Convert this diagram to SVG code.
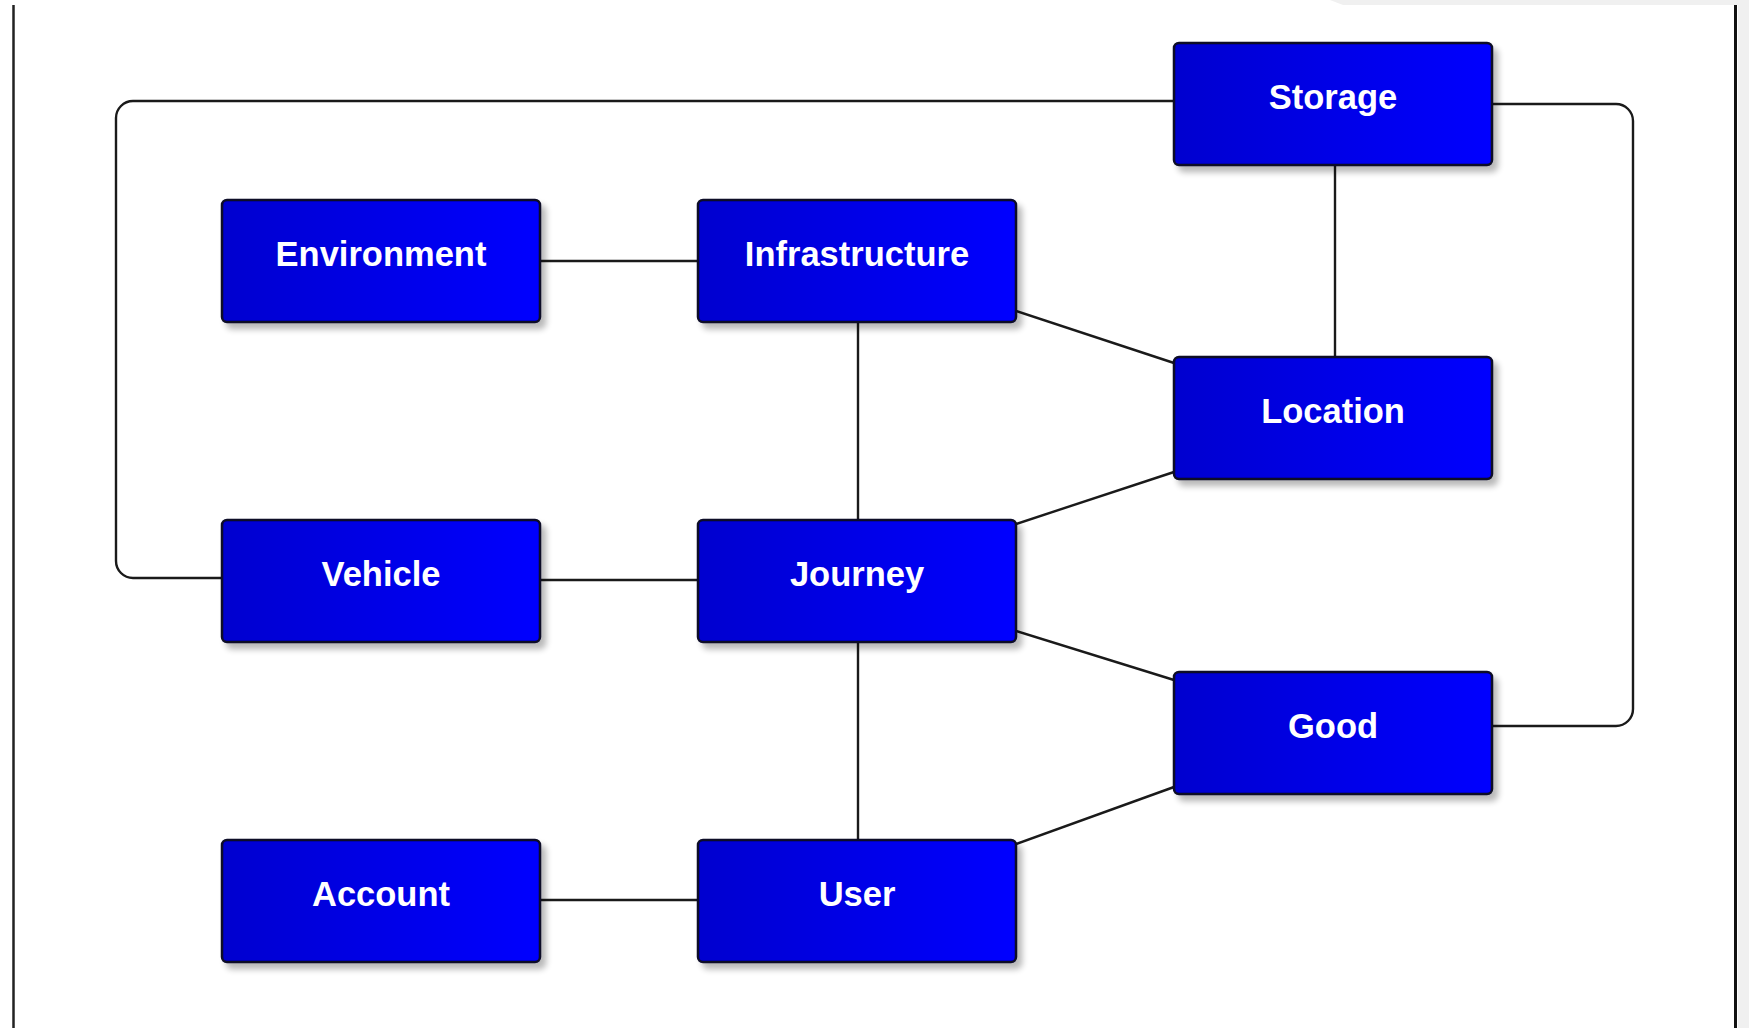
<svg xmlns="http://www.w3.org/2000/svg" width="1749" height="1028" viewBox="0 0 1749 1028">
<defs>
<linearGradient id="blue" x1="0" y1="0" x2="1" y2="0">
<stop offset="0" stop-color="#0000cf"/>
<stop offset="1" stop-color="#0000ff"/>
</linearGradient>
<filter id="shadow" x="-10%" y="-10%" width="130%" height="140%">
<feGaussianBlur in="SourceAlpha" stdDeviation="3"/>
<feOffset dx="5" dy="6" result="b"/>
<feComponentTransfer><feFuncA type="linear" slope="0.28"/></feComponentTransfer>
<feMerge><feMergeNode/><feMergeNode in="SourceGraphic"/></feMerge>
</filter>
</defs>
<style>
.node rect{fill:url(#blue);stroke:#0a0a28;stroke-width:2.5;filter:url(#shadow)}
.node text{font-family:"Liberation Sans",Arial,sans-serif;font-weight:bold;font-size:34.5px;fill:#ffffff;text-anchor:middle}
.edge{fill:none;stroke:#1a1a1a;stroke-width:2.4}
</style>
<rect x="0" y="0" width="1749" height="1028" fill="#ffffff"/>
<path d="M1330 0 H1749 V1028 H1738 V5 H1343 Z" fill="#f0f0f0"/>
<line x1="13.5" y1="5" x2="13.5" y2="1028" stroke="#222" stroke-width="2.5"/>
<line x1="1735.5" y1="5" x2="1735.5" y2="1028" stroke="#111" stroke-width="3"/>
<g id="connectors">
<path class="edge" d="M540 261 H698"/>
<path class="edge" d="M540 580 H698"/>
<path class="edge" d="M540 900 H698"/>
<path class="edge" d="M858 322 V520"/>
<path class="edge" d="M858 642 V840"/>
<path class="edge" d="M1335 165 V357"/>
<path class="edge" d="M1016 311 L1174 363"/>
<path class="edge" d="M1016 524 L1174 472"/>
<path class="edge" d="M1016 631 L1174 680"/>
<path class="edge" d="M1016 844 L1174 787"/>
<path class="edge" d="M222 578 H133 A17 17 0 0 1 116 561 V118 A17 17 0 0 1 133 101 H1174"/>
<path class="edge" d="M1491 104 H1616 A17 17 0 0 1 1633 121 V709 A17 17 0 0 1 1616 726 H1491"/>
</g>
<g id="storage" class="node"><rect x="1174" y="43" width="318" height="122" rx="5"/><text x="1333" y="109">Storage</text></g>
<g id="environment" class="node"><rect x="222" y="200" width="318" height="122" rx="5"/><text x="381" y="266">Environment</text></g>
<g id="infrastructure" class="node"><rect x="698" y="200" width="318" height="122" rx="5"/><text x="857" y="266">Infrastructure</text></g>
<g id="location" class="node"><rect x="1174" y="357" width="318" height="122" rx="5"/><text x="1333" y="423">Location</text></g>
<g id="vehicle" class="node"><rect x="222" y="520" width="318" height="122" rx="5"/><text x="381" y="586">Vehicle</text></g>
<g id="journey" class="node"><rect x="698" y="520" width="318" height="122" rx="5"/><text x="857" y="586">Journey</text></g>
<g id="good" class="node"><rect x="1174" y="672" width="318" height="122" rx="5"/><text x="1333" y="738">Good</text></g>
<g id="account" class="node"><rect x="222" y="840" width="318" height="122" rx="5"/><text x="381" y="906">Account</text></g>
<g id="user" class="node"><rect x="698" y="840" width="318" height="122" rx="5"/><text x="857" y="906">User</text></g>
</svg>
